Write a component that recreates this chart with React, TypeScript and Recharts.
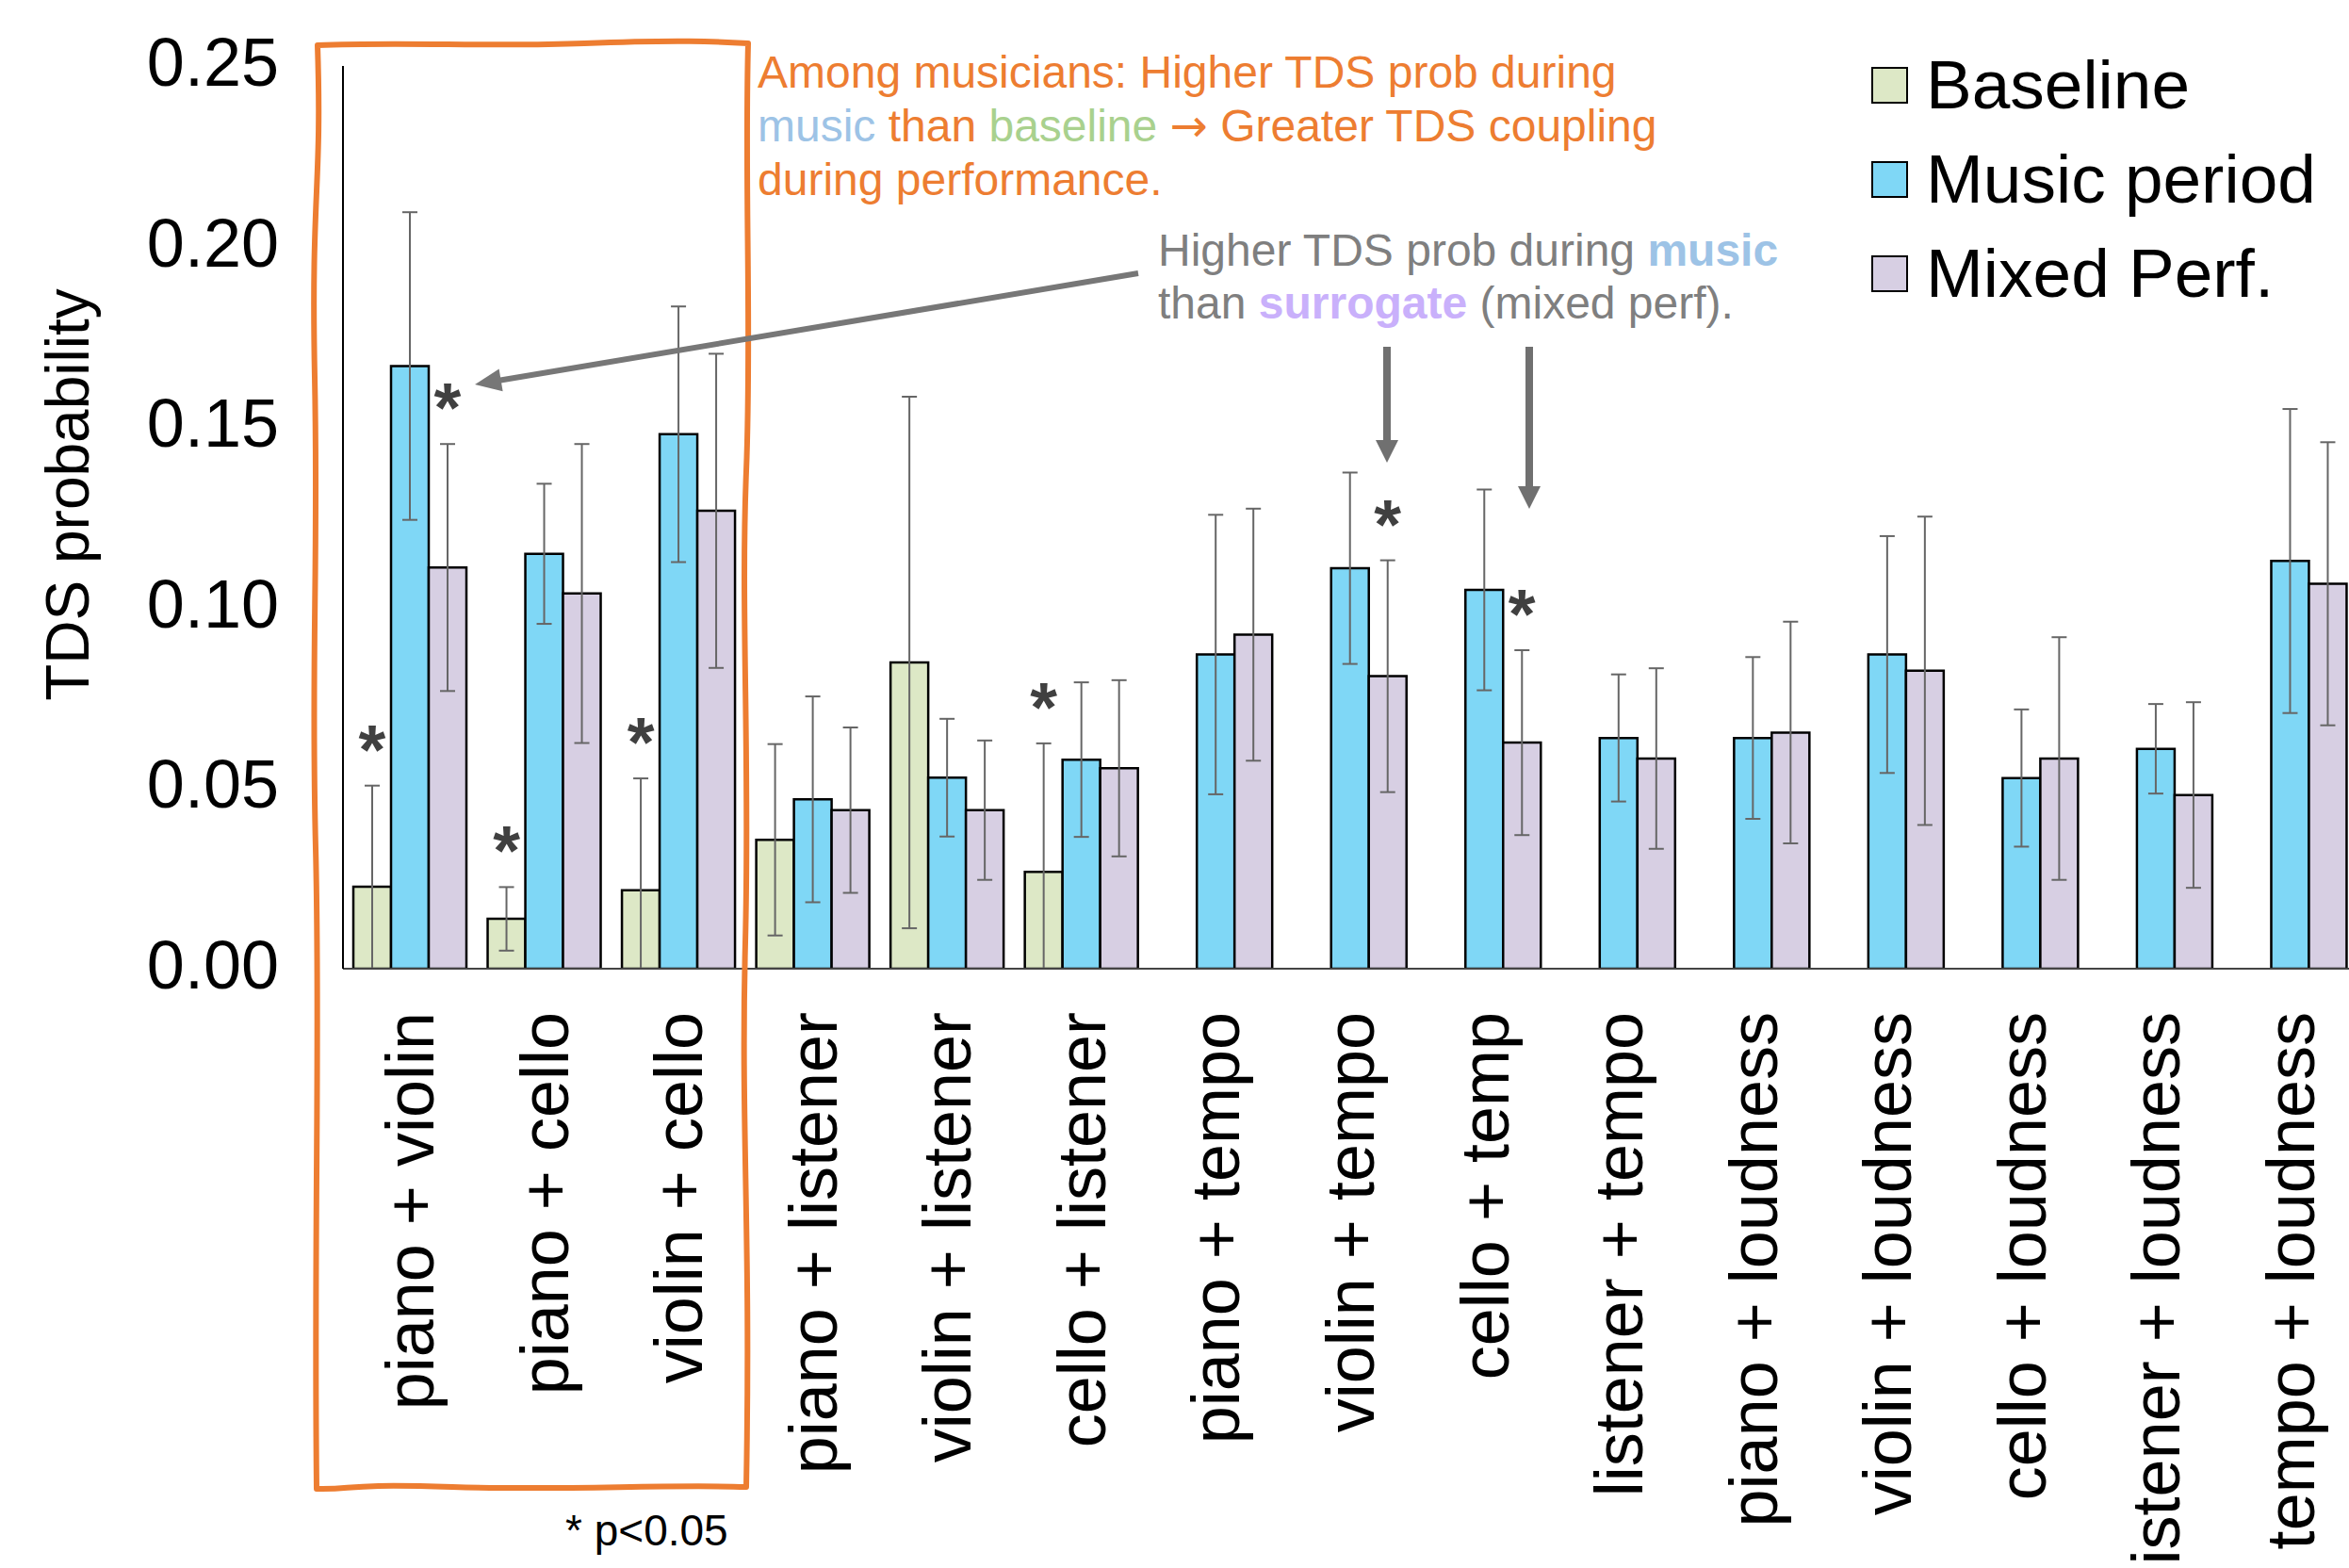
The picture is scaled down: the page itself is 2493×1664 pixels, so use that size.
import React from 'react';
import { BarChart, Bar, XAxis, YAxis, ErrorBar, LabelList, Legend, Label } from 'recharts';

// ---------- data ----------
const categories = [
  'piano + violin', 'piano + cello', 'violin + cello', 'piano + listener', 'violin + listener',
  'cello + listener', 'piano + tempo', 'violin + tempo', 'cello + temp', 'listener + tempo',
  'piano + loudness', 'violin + loudness', 'cello + loudness', 'listener + loudness', 'tempo + loudness',
];
const baselineValues = [0.0227, 0.0138, 0.0217, 0.0357, 0.0848, 0.0268, null, null, null, null, null, null, null, null, null];
const baselineErrors = [0.028, 0.0088, 0.031, 0.0265, 0.0736, 0.0356, null, null, null, null, null, null, null, null, null];
const musicValues = [0.1669, 0.1149, 0.148, 0.0469, 0.0529, 0.0579, 0.087, 0.1109, 0.1049, 0.0639, 0.0639, 0.087, 0.0528, 0.0609, 0.1129];
const musicErrors = [0.0426, 0.0194, 0.0354, 0.0285, 0.0163, 0.0214, 0.0387, 0.0265, 0.0278, 0.0176, 0.0224, 0.0328, 0.019, 0.0124, 0.0421];
const mixedValues = [0.1111, 0.1039, 0.1268, 0.0439, 0.0439, 0.0555, 0.0925, 0.081, 0.0626, 0.0582, 0.0654, 0.0825, 0.0582, 0.0481, 0.1066];
const mixedErrors = [0.0342, 0.0414, 0.0435, 0.0229, 0.0193, 0.0244, 0.0349, 0.0321, 0.0256, 0.025, 0.0307, 0.0427, 0.0336, 0.0257, 0.0392];
const baselineSig = [true, true, true, false, false, true, false, false, false, false, false, false, false, false, false];
const mixedSig = [true, false, false, false, false, false, false, true, true, false, false, false, false, false, false];
const yTicks = [0, 0.05, 0.1, 0.15, 0.2, 0.25];
const seriesNames = ['Baseline', 'Music period', 'Mixed Perf.'];

// ---------- styles ----------
const FONT = '"Liberation Sans", Arial, Helvetica, sans-serif';
const COLORS: Record<string, string> = {
  Baseline: '#DDE8C6',
  'Music period': '#7FD7F6',
  'Mixed Perf.': '#D7CFE3',
};
const ORANGE = '#ED7D31';

const errPair = (v: number | null, e: number | null) =>
  v == null || e == null ? null : [Math.min(e, v), e];

const data = categories.map((cat, i) => ({
  cat,
  baseline: baselineValues[i],
  baselineErr: errPair(baselineValues[i], baselineErrors[i]),
  music: musicValues[i],
  musicErr: errPair(musicValues[i], musicErrors[i]),
  mixed: mixedValues[i],
  mixedErr: errPair(mixedValues[i], mixedErrors[i]),
}));

const makeStar = (values: (number | null)[], errors: (number | null)[], sig: boolean[]) => (props: any) => {
  const index = props.index;
  if (index == null || !sig[index]) return null;
  const v = values[index];
  const e = errors[index];
  if (v == null || e == null) return null;
  const vb = props.viewBox || props;
  const { x, y, width, height } = vb;
  if (!height) return null;
  const pxPerUnit = height / v;
  const capY = y - e * pxPerUnit;
  const cy = capY - 47;
  return (
    <text x={x + width / 2} y={cy + 34} textAnchor="middle" fontSize={74} fontWeight="bold" fill="#404040" fontFamily={FONT}>
      *
    </text>
  );
};

const XTick = (props: any) => {
  const { x, y, payload } = props;
  return (
    <text transform={`translate(${x},${y}) rotate(-90)`} x={0} y={25} textAnchor="end" fontSize={72} fontFamily={FONT} fill="#000">
      {payload.value}
    </text>
  );
};

const YTick = (props: any) => {
  const { x, y, payload } = props;
  return (
    <text x={x} y={y + 21} textAnchor="end" fontSize={72} fontFamily={FONT} fill="#000">
      {Number(payload.value).toFixed(2)}
    </text>
  );
};

const YTitle = (props: any) => {
  const vb = props.viewBox || { y: 70, height: 958 };
  const cy = vb.y + vb.height / 2 - 24;
  return (
    <text transform={`translate(94,${cy}) rotate(-90)`} textAnchor="middle" fontSize={64} fontFamily={FONT} fill="#000">
      TDS probability
    </text>
  );
};

const renderLegend = () => {
  return (
    <div style={{ fontFamily: FONT }}>
      {seriesNames.map((name) => (
        <div key={name} style={{ display: 'flex', alignItems: 'center', height: 100 }}>
          <div
            style={{
              width: 39,
              height: 39,
              boxSizing: 'border-box',
              border: '2.5px solid #000',
              background: COLORS[name],
              marginRight: 19,
            }}
          />
          <span style={{ fontSize: 73, lineHeight: '100px', color: '#000', whiteSpace: 'nowrap' }}>{name}</span>
        </div>
      ))}
    </div>
  );
};

function Arrow({ x1, y1, x2, y2, w, headLen, headW, color }: any) {
  const dx = x2 - x1;
  const dy = y2 - y1;
  const L = Math.hypot(dx, dy);
  const ux = dx / L;
  const uy = dy / L;
  const bx = x2 - ux * headLen;
  const by = y2 - uy * headLen;
  const px = -uy;
  const py = ux;
  return (
    <g>
      <line x1={x1} y1={y1} x2={bx + ux * 2} y2={by + uy * 2} stroke={color} strokeWidth={w} />
      <polygon
        points={`${x2},${y2} ${bx + px * headW},${by + py * headW} ${bx - px * headW},${by - py * headW}`}
        fill={color}
      />
    </g>
  );
}

const boxPath =
  'M 337 48 C 430 44, 520 50, 620 46 S 760 44, 794 46 ' +
  'C 790 200, 798 350, 792 500 S 796 800, 791 1000 S 797 1300, 792 1578 ' +
  'C 700 1575, 600 1582, 480 1578 S 380 1581, 336 1580 ' +
  'C 333 1300, 340 1100, 335 900 S 338 600, 334 400 S 342 200, 337 48 Z';

export default function App() {
  return (
    <div style={{ position: 'fixed', left: 0, top: 0, width: 2493, height: 1664, overflow: 'hidden', background: '#fff' }}>
      <BarChart
        width={2502}
        height={1800}
        data={data}
        margin={{ top: 70, right: 0, left: 0, bottom: 0 }}
        barGap={0}
        barSize={40}
      >
        <XAxis
          dataKey="cat"
          interval={0}
          tickLine={false}
          tickSize={0}
          tickMargin={46}
          height={772}
          axisLine={{ stroke: '#444', strokeWidth: 2 }}
          tick={<XTick />}
        />
        <YAxis
          width={364}
          domain={[0, 0.25]}
          ticks={yTicks}
          interval={0}
          tick={<YTick />}
          tickLine={false}
          tickSize={0}
          tickMargin={68}
          axisLine={{ stroke: '#000', strokeWidth: 2 }}
          allowDataOverflow
        >
          <Label content={<YTitle />} />
        </YAxis>
        <Legend
          layout="vertical"
          align="center"
          verticalAlign="middle"
          content={renderLegend}
          wrapperStyle={{ position: 'absolute', left: 1986, top: 40, width: 'auto', height: 'auto' }}
        />
        <Bar dataKey="baseline" name={seriesNames[0]} fill={COLORS.Baseline} stroke="#000" strokeWidth={2.5} isAnimationActive={false}>
          <ErrorBar dataKey="baselineErr" width={8} stroke="#666" strokeWidth={2} direction="y" />
          <LabelList content={makeStar(baselineValues, baselineErrors, baselineSig)} />
        </Bar>
        <Bar dataKey="music" name={seriesNames[1]} fill={COLORS['Music period']} stroke="#000" strokeWidth={2.5} isAnimationActive={false}>
          <ErrorBar dataKey="musicErr" width={8} stroke="#666" strokeWidth={2} direction="y" />
        </Bar>
        <Bar dataKey="mixed" name={seriesNames[2]} fill={COLORS['Mixed Perf.']} stroke="#000" strokeWidth={2.5} isAnimationActive={false}>
          <ErrorBar dataKey="mixedErr" width={8} stroke="#666" strokeWidth={2} direction="y" />
          <LabelList content={makeStar(mixedValues, mixedErrors, mixedSig)} />
        </Bar>
      </BarChart>
      <svg style={{ position: 'absolute', left: 0, top: 0, pointerEvents: 'none' }} width={2493} height={1664}>
        <path d={boxPath} fill="none" stroke={ORANGE} strokeWidth={6} strokeLinejoin="round" />
        <g fontFamily={FONT} fontSize={48} fill={ORANGE}>
          <text x={804} y={93}>Among musicians: Higher TDS prob during</text>
          <text x={804} y={150}>
            <tspan fill="#9DC3E6">music</tspan> than <tspan fill="#A9D18E">baseline</tspan>{' '}
            <tspan fontFamily='"DejaVu Sans", sans-serif'>→</tspan> Greater TDS coupling
          </text>
          <text x={804} y={207}>during performance.</text>
        </g>
        <g fontFamily={FONT} fontSize={48} fill="#7F7F7F">
          <text x={1229} y={282}>
            Higher TDS prob during <tspan fontWeight="bold" fill="#9DC3E6">music</tspan>
          </text>
          <text x={1229} y={338}>
            than <tspan fontWeight="bold" fill="#C9B0FB">surrogate</tspan> (mixed perf).
          </text>
        </g>
        <Arrow x1={1208} y1={290} x2={504} y2={408} w={6} headLen={28} headW={12} color="#777" />
        <Arrow x1={1472} y1={368} x2={1472} y2={491} w={8} headLen={24} headW={12} color="#707070" />
        <Arrow x1={1623} y1={368} x2={1623} y2={540} w={8} headLen={24} headW={12} color="#707070" />
        <text x={600} y={1640} fontFamily={FONT} fontSize={46} fill="#000">
          {'* p<0.05'}
        </text>
      </svg>
    </div>
  );
}
